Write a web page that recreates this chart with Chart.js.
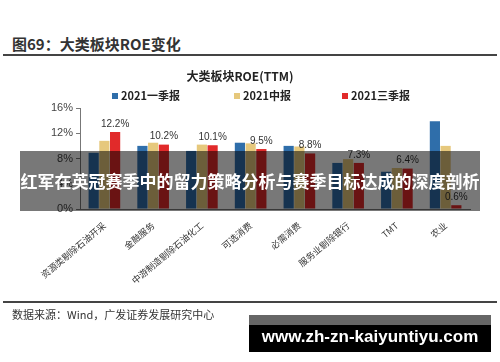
<!DOCTYPE html>
<html>
<head>
<meta charset="utf-8">
<script src="https://cdn.jsdelivr.net/npm/chart.js@4.4.0/dist/chart.umd.min.js"></script>
<style>
  body { margin: 0; background: #fff; font-family: "Noto Sans CJK SC", "Noto Sans", sans-serif; }
  #page { position: relative; width: 500px; height: 362px; overflow: hidden; background: #fff; }
  #head { position: absolute; left: 12px; top: 33px; font-size: 15px; font-weight: bold; color: #333; }
  .rule { position: absolute; left: 3px; width: 494px; height: 2px; background: #444; }
  #box { position: absolute; left: 0; top: 60px; width: 500px; height: 242px; }
  #ctitle { position: absolute; left: 0; width: 480px; top: 67px; text-align: center; font-size: 12px; font-weight: bold; color: #222; }
  #legend { position: absolute; top: 87px; left: 0; width: 500px; height: 16px; }
  #legend span { position: absolute; font-size: 11px; font-weight: bold; color: #222; white-space: nowrap; }
  #legend i { display: inline-block; width: 6px; height: 6px; margin-right: 3px; vertical-align: 1px; }
  #banner { position: absolute; left: 20px; top: 151px; width: 460px; height: 60px; background: rgba(0,0,0,0.53);
            color: #fff; font-size: 17px; font-weight: bold; line-height: 60px; text-align: center; white-space: nowrap; }
  #src { position: absolute; left: 12px; top: 306px; font-size: 11px; color: #333; }
  #mark { position: absolute; left: 249px; top: 315px; width: 242px; height: 37px; background: #000; }
  #mark .strip { height: 10px; background: #666; }
  #mark .txt { position: absolute; left: 0; top: 12px; width: 242px; text-align: center; color: #fff;
               font-family: "Liberation Sans", Arial, sans-serif; font-weight: bold; font-size: 17px; }
</style>
</head>
<body>
<div id="page">
  <div id="head">图69：大类板块ROE变化</div>
  <div class="rule" style="top:54px"></div>
  <div id="box"><canvas id="myChart"></canvas></div>
  <div id="ctitle">大类板块ROE(TTM)</div>
  <div id="legend"></div>
  <div id="banner">红军在英冠赛季中的留力策略分析与赛季目标达成的深度剖析</div>
  <div class="rule" style="top:301px"></div>
  <div id="src">数据来源：Wind，广发证券发展研究中心</div>
  <div id="mark"><div class="strip"></div><div class="txt">www.zh-zn-kaiyuntiyu.com</div></div>
</div>
<script>
// sectors
var labels = ["资源类剔除石油开采", "金融服务", "中游制造剔除石油化工", "可选消费", "必需消费", "服务业剔除银行", "TMT", "农业"];
// ROE (TTM), %
var q1 = [8.9, 10.0, 9.2, 10.5, 10.0, 7.3, 5.9, 13.9];
var h1 = [10.8, 10.5, 10.2, 10.4, 9.9, 7.9, 6.5, 10.0];
var q3 = [12.2, 10.2, 10.1, 9.5, 8.8, 7.3, 6.4, 0.6];
var yTicks = [0, 4, 8, 12, 16];

// value labels over the 三季报 bars
var valueLabels = {
  id: "valueLabels",
  afterDatasetsDraw: function (chart) {
    var ctx = chart.ctx;
    var meta = chart.getDatasetMeta(2);
    ctx.save();
    ctx.font = "10px 'Liberation Sans', Arial, sans-serif";
    ctx.fillStyle = "#333";
    ctx.textAlign = "center";
    ctx.textBaseline = "bottom";
    meta.data.forEach(function (bar, i) {
      ctx.fillText(q3[i].toFixed(1) + "%", bar.x, bar.y - 3);
    });
    ctx.restore();
  },
};

var data = {
  labels: labels,
  datasets: [
    { label: "2021一季报", data: q1, backgroundColor: "#2f6eaa" },
    { label: "2021中报", data: h1, backgroundColor: "#e6c87c" },
    { label: "2021三季报", data: q3, backgroundColor: "#e12a2a" },
  ],
};

var config = {
  type: "bar",
  data: data,
  plugins: [valueLabels],
  options: {
    responsive: true,
    maintainAspectRatio: false,
    animation: false,
    datasets: { bar: { barPercentage: 0.95, categoryPercentage: 0.66 } },
    layout: { padding: { left: 48, right: 30, top: 48, bottom: 0 } },
    plugins: {
      legend: { display: false },
      tooltip: { enabled: false },
    },
    scales: {
      x: {
        grid: { display: false },
        border: { color: "#777" },
        ticks: { minRotation: 40, maxRotation: 40, color: "#333", font: { size: 9, family: "Noto Sans CJK SC" } },
        afterFit: function (s) { s.height = 93; },
      },
      y: {
        min: 0,
        max: 16,
        afterBuildTicks: function (s) { s.ticks = yTicks.map(function (v) { return { value: v }; }); },
        grid: { drawOnChartArea: false, tickLength: 4, color: "#777" },
        border: { color: "#777" },
        ticks: { color: "#444", font: { size: 11, family: "'Liberation Sans', Arial, sans-serif" }, callback: function (v) { return v + "%"; } },
      },
    },
  },
};

var myChart = new Chart(document.getElementById("myChart"), config);

// legend built from the datasets
var legendX = [112, 234, 342];
var lg = document.getElementById("legend");
data.datasets.forEach(function (ds, i) {
  var s = document.createElement("span");
  s.style.left = legendX[i] + "px";
  s.innerHTML = '<i style="background:' + ds.backgroundColor + '"></i>' + ds.label;
  lg.appendChild(s);
});
</script>
</body>
</html>
